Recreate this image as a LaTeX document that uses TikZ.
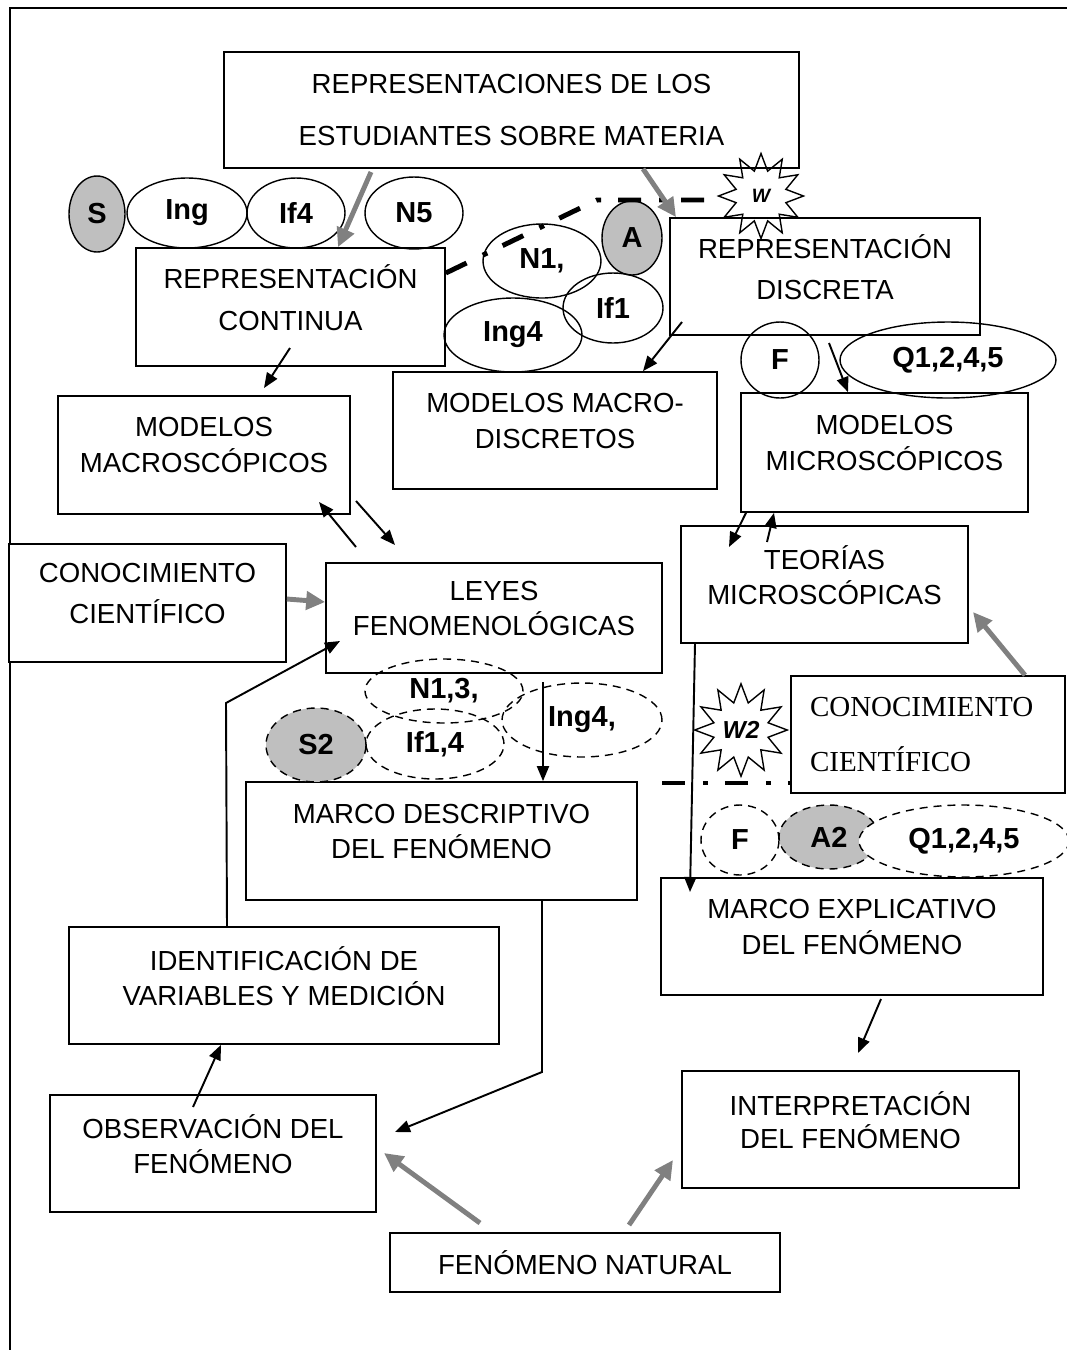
\documentclass[tikz,border=0pt]{standalone}
\usepackage{fontspec}
\setmainfont{Liberation Sans}
\newfontfamily\serifrm{Liberation Serif}
\usetikzlibrary{arrows.meta,shapes.geometric}
\newcommand\boxfont[1]{\fontsize{15.7}{#1}\selectfont}
\newcommand\tagfont{\bfseries\fontsize{16.5}{19}\selectfont}

\begin{document}
\begin{tikzpicture}%
        [x=0.02cm, y=-0.02cm,
        box/.style={draw, line width=1pt, fill=white, align=center, inner sep=0pt, font=\boxfont{20.5}, execute at end node={\rule[-11pt]{0pt}{0pt}}},
        flatbox/.style={draw, line width=1pt, fill=white, align=center, inner sep=0pt},
        tag/.style={ellipse, draw, line width=0.8pt, inner sep=0pt, font=\tagfont},
        graytag/.style={tag, fill=gray!50},
        dashtag/.style={tag, dash pattern=on 0.16cm off 0.12cm},
        burst/.style={star, star points=12, star point ratio=1.65, draw, line width=0.8pt, inner sep=0pt},
        blackarrow/.style={-{Triangle[length=0.3cm,width=0.24cm]}, line width=1.1pt},
        grayarrow/.style={-{Triangle[length=0.38cm,width=0.36cm]}, line width=2.8pt, color=gray},
        dashdotline/.style={line width=2.8pt, dash pattern=on 0.46cm off 0.36cm on 0.1cm off 0.34cm}]
    %
    \useasboundingbox (0,0) rectangle (1067,1350);
    %% Frame
    \draw[line width=1pt] (1067,8) -- (10,8) -- (10,1350);
    %%
    %% Boxes
    %%
    \node[flatbox, font=\boxfont{30}, minimum width=11.5cm, minimum height=2.32cm] (repr) at (511.5,110) {REPRESENTACIONES DE LOS\\ESTUDIANTES SOBRE MATERIA};
    \node[box, font=\boxfont{24}, minimum width=6.18cm, minimum height=2.36cm] (cont) at (290.5,307) {REPRESENTACIÓN\\CONTINUA};
    \node[box, font=\boxfont{23.3}, minimum width=6.2cm, minimum height=2.34cm] (disc) at (825,276.5) {REPRESENTACIÓN\\DISCRETA};
    \node[box, minimum width=5.84cm, minimum height=2.36cm] (macro) at (204,455) {MODELOS\\MACROSCÓPICOS};
    \node[box, minimum width=6.48cm, minimum height=2.34cm] (macdisc) at (555,430.5) {MODELOS MACRO-\\DISCRETOS};
    \node[box, font=\boxfont{20}, minimum width=5.74cm, minimum height=2.38cm] (micro) at (884.5,452.5) {MODELOS\\MICROSCÓPICOS};
    \node[box, font=\boxfont{23.3}, minimum width=5.54cm, minimum height=2.36cm] (conocl) at (147.5,603) {CONOCIMIENTO\\CIENTÍFICO};
    \node[box, font=\boxfont{20}, minimum width=6.72cm, minimum height=2.2cm] (leyes) at (494,618) {LEYES\\FENOMENOLÓGICAS};
    \node[box, font=\boxfont{20}, minimum width=5.74cm, minimum height=2.34cm] (teorias) at (824.5,584.5) {TEORÍAS\\MICROSCÓPICAS};
    \node[flatbox, align=left, inner xsep=0.38cm, text width=4.72cm, font=\serifrm\fontsize{16.5}{31}\selectfont, minimum height=2.34cm] (conocr) at (928,734.5) {CONOCIMIENTO\\CIENTÍFICO};
    \node[box, font=\boxfont{19.5}, minimum width=7.82cm, minimum height=2.36cm] (mdesc) at (441.5,841) {MARCO DESCRIPTIVO\\DEL FENÓMENO};
    \node[box, minimum width=7.64cm, minimum height=2.34cm] (mexpl) at (852,936.5) {MARCO EXPLICATIVO\\DEL FENÓMENO};
    \node[box, font=\boxfont{20}, minimum width=8.6cm, minimum height=2.34cm] (ident) at (284,985.5) {IDENTIFICACIÓN DE\\VARIABLES Y MEDICIÓN};
    \node[box, font=\boxfont{20}, minimum width=6.52cm, minimum height=2.34cm] (observ) at (213,1153.5) {OBSERVACIÓN DEL\\FENÓMENO};
    \node[box, font=\boxfont{19}, minimum width=6.74cm, minimum height=2.34cm] (interp) at (850.5,1129.5) {INTERPRETACIÓN\\DEL FENÓMENO};
    \node[flatbox, font=\boxfont{19}, minimum width=7.8cm, minimum height=1.18cm] (natural) at (585,1262.5) {FENÓMENO NATURAL};
    %%
    %% Tags of the upper level
    %%
    \node[graytag, minimum width=1.12cm, minimum height=1.52cm] (s) at (97,214) {S};
    \node[tag, minimum width=2.4cm, minimum height=1.4cm] (ing) at (187,213) {Ing};
    \node[tag, minimum width=1.96cm, minimum height=1.4cm] (if4) at (296,213) {If4};
    \node[tag, minimum width=1.96cm, minimum height=1.44cm] (n5) at (414,213) {N5};
    \node[tag, minimum width=2.36cm, minimum height=1.48cm] (n1) at (542,261) {N1,};
    \node[graytag, minimum width=1.2cm, minimum height=1.48cm] (a) at (632,238) {A};
    \node[tag, minimum width=2.0cm, minimum height=1.4cm] (if1) at (613,308) {If1};
    \node[tag, minimum width=2.76cm, minimum height=1.48cm] (ing4) at (513,335) {Ing4};
    \node[tag, minimum width=1.56cm, minimum height=1.52cm] (f) at (780,360) {F};
    \node[tag, minimum width=4.32cm, minimum height=1.52cm] (q) at (948,360) {Q1,2,4,5};
    %%
    %% Tags of the lower level
    %%
    \node[dashtag, minimum width=3.16cm, minimum height=1.28cm] (n13) at (444,691) {N1,3,};
    \node[dashtag, minimum width=3.2cm, minimum height=1.48cm] (ing4b) at (582,720) {Ing4,};
    \node[dashtag, fill=gray!50, minimum width=2.0cm, minimum height=1.48cm] (s2) at (316,745) {S2};
    \node[dashtag, minimum width=2.76cm, minimum height=1.4cm] (if14) at (435,744) {If1,4};
    \node[dashtag, minimum width=1.56cm, minimum height=1.4cm] (f2) at (740,840) {F};
    \node[dashtag, fill=gray!50, minimum width=2.0cm, minimum height=1.28cm] (a2) at (829,837) {A2};
    \node[dashtag, fill=white, minimum width=4.2cm, minimum height=1.44cm] (q2) at (964,841) {Q1,2,4,5};
    %%
    %% Bursts
    %%
    \node[burst, minimum size=1.7cm, font=\bfseries\itshape\fontsize{11}{13}\selectfont] (w) at (761,196) {W};
    \node[burst, minimum size=1.85cm, font=\bfseries\itshape\fontsize{14}{16}\selectfont] (w2) at (741,730) {W2};
    %%
    %% Free ends
    %%
    \coordinate (bend) at (597,200);
    \coordinate (cutstart) at (662,783);
    \coordinate (contout) at (290,348);
    \coordinate (macroin) at (264,388);
    \coordinate (discout) at (682,322);
    \coordinate (microa) at (829,343);
    \coordinate (upfrom) at (356,547);
    \coordinate (upto) at (319,502);
    \coordinate (downfrom) at (356,501);
    \coordinate (downto) at (395,545);
    \coordinate (teoriasin) at (729,547);
    \coordinate (teoriasout) at (767,542);
    \coordinate (identbend) at (226,703);
    \coordinate (leyesin) at (340,641);
    \coordinate (leyesout) at (543,682);
    \coordinate (mdescbend) at (542,1072);
    \coordinate (observin) at (395,1132);
    \coordinate (observout) at (193,1107);
    \coordinate (mexplin) at (690,892);
    \coordinate (mexplout) at (881,999);
    \coordinate (interpin) at (858,1053);
    \coordinate (reprout) at (371,172);
    \coordinate (teoriasside) at (973,612);
    \coordinate (naturalleft) at (480,1223);
    \coordinate (observside) at (384,1153);
    \coordinate (naturalright) at (629,1225);
    \coordinate (interpside) at (673,1160);
    %%
    %% Dash-dot cuts
    %%
    \draw[dashdotline] (cont.east |- 0,273) -- (bend) -- (w.west |- bend);
    \draw[dashdotline] (cutstart) -- (conocr.west |- cutstart);
    %%
    %% Black arrows
    %%
    \draw[blackarrow] (contout) -- (macroin);
    \draw[blackarrow] (discout) -- (macdisc.north -| 643,0);
    \draw[blackarrow] (microa) -- (micro.north -| 848,0);
    \draw[blackarrow] (upfrom) -- (upto);
    \draw[blackarrow] (downfrom) -- (downto);
    \draw[blackarrow] (micro.south -| 746,0) -- (teoriasin);
    \draw[blackarrow] (teoriasout) -- (micro.south -| 774,0);
    \draw[blackarrow] (ident.north -| 227,0) -- (identbend) -- (leyesin);
    \draw[blackarrow] (leyesout) -- (mdesc.north -| 543,0);
    \draw[blackarrow] (mdesc.south -| 542,0) -- (mdescbend) -- (observin);
    \draw[blackarrow] (observout) -- (ident.south -| 221,0);
    \draw[blackarrow] (teorias.south -| 695,0) -- (mexplin);
    \draw[blackarrow] (mexplout) -- (interpin);
    %%
    %% Gray arrows
    %%
    \draw[grayarrow] (reprout) -- (cont.north -| 338,0);
    \draw[grayarrow] (repr.south -| 643,0) -- (disc.north -| 676,0);
    \draw[grayarrow] (conocl.east |- 0,599) -- (leyes.west |- 0,602);
    \draw[grayarrow] (conocr.north -| 1025,0) -- (teoriasside);
    \draw[grayarrow] (naturalleft) -- (observside);
    \draw[grayarrow] (naturalright) -- (interpside);
    %%
\end{tikzpicture}
\end{document}
